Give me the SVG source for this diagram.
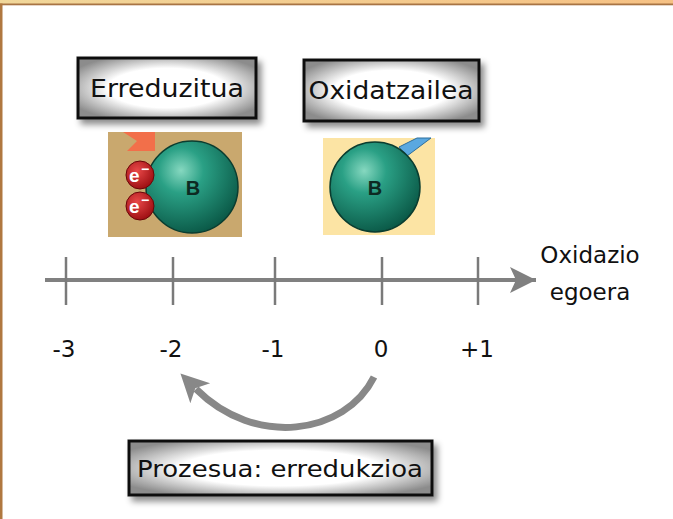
<svg xmlns="http://www.w3.org/2000/svg" width="673" height="519" viewBox="0 0 673 519">
<defs>
<style>
.lbl{font-family:"DejaVu Sans","Liberation Sans",sans-serif;fill:#111;}
.box{stroke:#111;stroke-width:3;}
.tick{stroke:#7a7a7a;stroke-width:2.5;}
.num{font-family:"DejaVu Sans","Liberation Sans",sans-serif;font-size:23px;fill:#111;text-anchor:middle;}
.el{font-family:"Liberation Sans",sans-serif;font-weight:bold;fill:#fff;}
.bl{font-family:"Liberation Sans",sans-serif;font-weight:bold;font-size:20px;fill:#0d2a22;text-anchor:middle;}
</style>
<linearGradient id="topband" x1="0" y1="0" x2="1" y2="0">
<stop offset="0" stop-color="#f1d79a"/>
<stop offset="1" stop-color="#f6c184"/>
</linearGradient>
<radialGradient id="boxfill" cx="0.5" cy="0.5" r="0.6">
<stop offset="0.55" stop-color="#ffffff"/>
<stop offset="1" stop-color="#8c8c8c"/>
</radialGradient>
<radialGradient id="sphere" cx="0.38" cy="0.32" r="0.7">
<stop offset="0" stop-color="#86d8c0"/>
<stop offset="0.35" stop-color="#2aa085"/>
<stop offset="1" stop-color="#0b5a48"/>
</radialGradient>
<radialGradient id="elec" cx="0.4" cy="0.35" r="0.7">
<stop offset="0" stop-color="#e84848"/>
<stop offset="1" stop-color="#9a0c10"/>
</radialGradient>
<filter id="shadow" x="-10%" y="-20%" width="125%" height="150%">
<feDropShadow dx="4" dy="5" stdDeviation="3" flood-color="#000" flood-opacity="0.45"/>
</filter>
<marker id="axhead" markerWidth="28" markerHeight="28" refX="26" refY="14" orient="auto" markerUnits="userSpaceOnUse">
<path d="M0,1 L26,14 L0,27 L6,14 Z" fill="#808080"/>
</marker>
<marker id="cvhead" markerWidth="32" markerHeight="32" refX="6" refY="16" orient="auto" markerUnits="userSpaceOnUse">
<path d="M0,2 L28,16 L0,30 L7,16 Z" fill="#888888"/>
</marker>
</defs>

<rect x="0" y="0" width="673" height="519" fill="#ffffff"/>
<rect x="0" y="0" width="673" height="4" fill="url(#topband)"/>
<rect x="0" y="3.5" width="673" height="1.8" fill="#a87444"/>
<rect x="0" y="3.5" width="2.5" height="515.5" fill="#b07840"/>

<g id="node-erreduzitua">
<rect class="box" x="78" y="58" width="178" height="60" fill="url(#boxfill)" filter="url(#shadow)"/>
<text class="lbl" x="167" y="97" font-size="24" text-anchor="middle" textLength="154" lengthAdjust="spacingAndGlyphs">Erreduzitua</text>
</g>

<g id="node-oxidatzailea">
<rect class="box" x="304" y="60" width="175" height="61" fill="url(#boxfill)" filter="url(#shadow)"/>
<text class="lbl" x="391" y="99" font-size="24" text-anchor="middle" textLength="165" lengthAdjust="spacingAndGlyphs">Oxidatzailea</text>
</g>

<g id="pic-reduced">
<rect x="108" y="132" width="134" height="105" fill="#c9a86e"/>
<polygon points="123,132 155,132 155,151 127,151 137,141" fill="#f26f4a"/>
<circle cx="192" cy="187" r="46" fill="url(#sphere)" stroke="#0a3d30" stroke-width="1.5"/>
<text class="bl" x="193" y="195">B</text>
<circle cx="140" cy="175" r="14" fill="url(#elec)" stroke="#6a0608" stroke-width="1"/>
<circle cx="140" cy="206" r="14" fill="url(#elec)" stroke="#6a0608" stroke-width="1"/>
<text class="el" x="129" y="182" font-size="19">e</text><text class="el" x="141" y="174" font-size="14">−</text>
<text class="el" x="129" y="213" font-size="19">e</text><text class="el" x="141" y="205" font-size="14">−</text>
</g>

<g id="pic-oxidant">
<rect x="323" y="138" width="112" height="97" fill="#fce4a4"/>
<polygon points="399,147 417,138 431,138 407,156" fill="#5aa8e0" stroke="#2d6e9c" stroke-width="1"/>
<circle cx="375" cy="187" r="45" fill="url(#sphere)" stroke="#0a3d30" stroke-width="1.5"/>
<text class="bl" x="375" y="195">B</text>
</g>

<g id="axis">
<line x1="45" y1="280" x2="536" y2="280" stroke="#808080" stroke-width="4" marker-end="url(#axhead)"/>
<line class="tick" x1="66" y1="257" x2="66" y2="305"/>
<line class="tick" x1="173" y1="257" x2="173" y2="305"/>
<line class="tick" x1="275" y1="257" x2="275" y2="305"/>
<line class="tick" x1="382" y1="257" x2="382" y2="305"/>
<line class="tick" x1="478" y1="257" x2="478" y2="305"/>
<text class="num" x="64" y="357">-3</text>
<text class="num" x="171" y="357">-2</text>
<text class="num" x="273" y="357">-1</text>
<text class="num" x="381" y="357">0</text>
<text class="num" x="477" y="357">+1</text>
<text class="lbl" x="590" y="263" font-size="23" text-anchor="middle">Oxidazio</text>
<text class="lbl" x="590" y="300" font-size="23" text-anchor="middle">egoera</text>
</g>

<g id="connectors">
<path d="M374,377 C345,435 255,448 196,389" fill="none" stroke="#888888" stroke-width="7" marker-end="url(#cvhead)"/>
</g>

<g id="node-prozesua">
<rect class="box" x="129" y="441" width="303" height="54" fill="url(#boxfill)" filter="url(#shadow)"/>
<text class="lbl" x="280" y="477" font-size="23" text-anchor="middle" textLength="286" lengthAdjust="spacingAndGlyphs">Prozesua: erredukzioa</text>
</g>
</svg>
